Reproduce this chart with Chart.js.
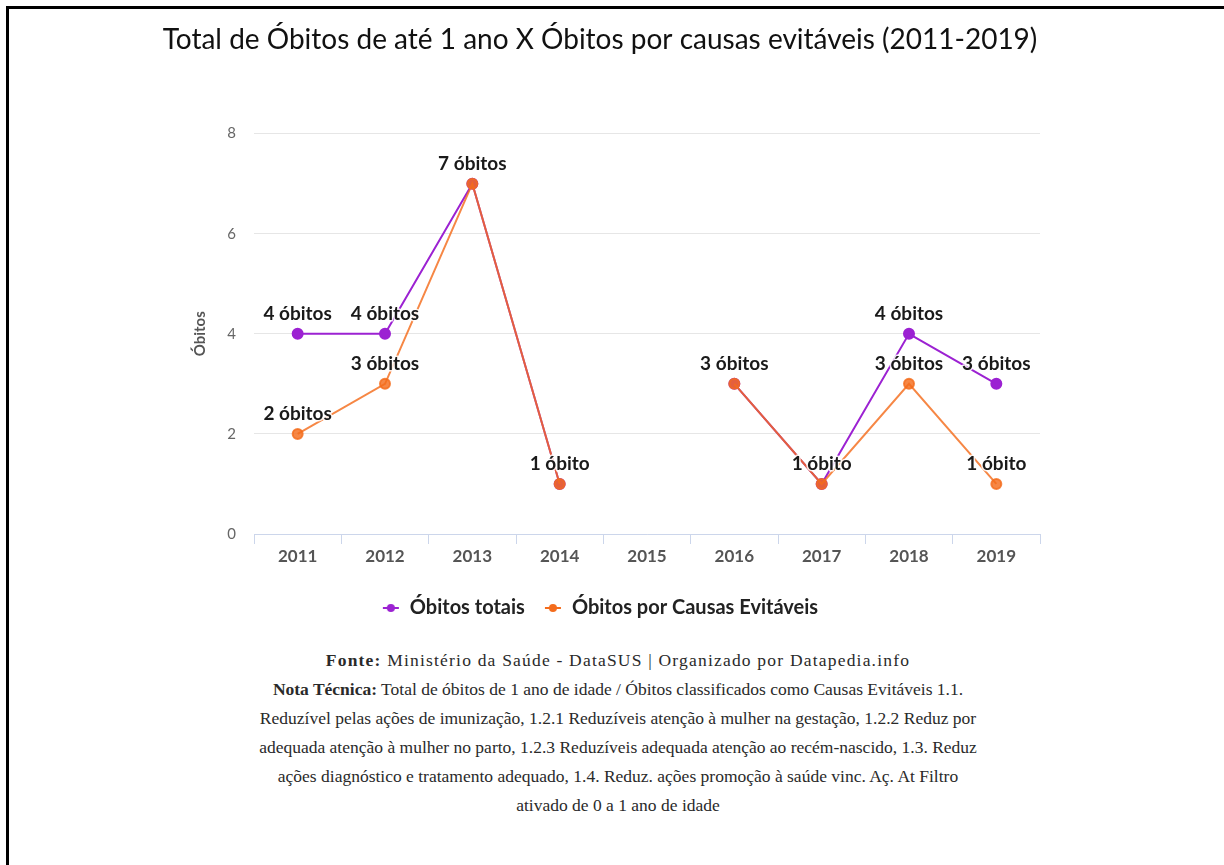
<!DOCTYPE html>
<html><head><meta charset="utf-8">
<script src="https://cdn.jsdelivr.net/npm/chart.js@4/dist/chart.umd.min.js"></script>
<style>
html,body{margin:0;padding:0;background:#fff;width:1224px;height:865px;overflow:hidden;position:relative;}
#lineTop{position:absolute;left:6px;top:6px;width:1218px;height:3px;background:#000;}
#lineLeft{position:absolute;left:6px;top:6px;width:3px;height:859px;background:#000;}
#wrap{position:absolute;left:0;top:0;width:1224px;height:635px;}
#note{position:absolute;left:8px;width:1220px;top:646px;text-align:center;font-family:'Liberation Serif','DejaVu Serif',serif;font-size:17.5px;line-height:29px;color:#2a2a2a;white-space:nowrap;}
#note b{font-weight:600;}
#note .l1{letter-spacing:1.2px;}
</style></head>
<body>
<div id="wrap"><canvas id="c" width="1224" height="635"></canvas></div>
<div id="note">
<span class="l1"><b>Fonte:</b> Ministério da Saúde - DataSUS | Organizado por Datapedia.info</span><br>
<b>Nota Técnica:</b> Total de óbitos de 1 ano de idade / Óbitos classificados como Causas Evitáveis 1.1.<br>
Reduzível pelas ações de imunização, 1.2.1 Reduzíveis atenção à mulher na gestação, 1.2.2 Reduz por<br>
adequada atenção à mulher no parto, 1.2.3 Reduzíveis adequada atenção ao recém-nascido, 1.3. Reduz<br>
ações diagnóstico e tratamento adequado, 1.4. Reduz. ações promoção à saúde vinc. Aç. At Filtro<br>
ativado de 0 a 1 ano de idade
</div>
<div id="lineTop"></div><div id="lineLeft"></div>
<script>
const categories = ['2011','2012','2013','2014','2015','2016','2017','2018','2019'];
const obitosTotais = [4, 4, 7, 1, null, 3, 1, 4, 3];
const obitosEvitaveis = [2, 3, 7, 1, null, 3, 1, 3, 1];
const yTicks = [0, 2, 4, 6, 8];
const seriesNames = ['Óbitos totais', 'Óbitos por Causas Evitáveis'];

const PURPLE = '#9c22d2';
const ORANGE = 'rgba(244,108,28,0.82)';

function legendIcon(color){
  const cv = document.createElement('canvas');
  cv.width = 18; cv.height = 12;
  const x = cv.getContext('2d');
  x.strokeStyle = color; x.lineWidth = 2;
  x.beginPath(); x.moveTo(1,6); x.lineTo(17,6); x.stroke();
  x.fillStyle = color;
  x.beginPath(); x.arc(9,6,4,0,Math.PI*2); x.fill();
  return cv;
}
const icons = [legendIcon(PURPLE), legendIcon('#f46c1c')];

const labelPlugin = {
  id: 'valueLabels',
  afterDatasetsDraw(chart){
    const ctx = chart.ctx;
    ctx.save();
    ctx.font = 'bold 19px Lato, sans-serif';
    ctx.textAlign = 'center';
    ctx.textBaseline = 'middle';
    ctx.lineJoin = 'round';
    chart.data.datasets.forEach((ds, d) => {
      const meta = chart.getDatasetMeta(d);
      ds.data.forEach((v, i) => {
        if (v === null || v === undefined) return;
        if (d === 1 && obitosTotais[i] === v) return;
        const p = meta.data[i];
        const txt = v === 1 ? '1 óbito' : v + ' óbitos';
        ctx.strokeStyle = 'rgba(255,255,255,0.85)';
        ctx.lineWidth = 3;
        ctx.strokeText(txt, p.x, p.y - 20);
        ctx.fillStyle = '#1a1a1a';
        ctx.fillText(txt, p.x, p.y - 20);
      });
    });
    ctx.restore();
  }
};

new Chart(document.getElementById('c'), {
  type: 'line',
  data: {
    labels: categories,
    datasets: [
      { label: seriesNames[0], data: obitosTotais, borderColor: PURPLE, backgroundColor: PURPLE,
        pointBackgroundColor: PURPLE, pointBorderColor: PURPLE, pointRadius: 5, borderWidth: 2,
        pointStyle: 'circle', spanGaps: false, order: 1 },
      { label: seriesNames[1], data: obitosEvitaveis, borderColor: ORANGE, backgroundColor: ORANGE,
        pointBackgroundColor: ORANGE, pointBorderColor: ORANGE, pointRadius: 5, borderWidth: 2,
        pointStyle: 'circle', spanGaps: false, order: 0 }
    ]
  },
  options: {
    responsive: false,
    animation: false,
    elements: { line: { tension: 0 } },
    layout: { padding: { left: 160, right: 184, top: 20, bottom: 7 } },
    plugins: {
      title: { display: true, text: 'Total de Óbitos de até 1 ano X Óbitos por causas evitáveis (2011-2019)',
        font: { family: 'Lato, sans-serif', size: 28, weight: 'normal' }, color: '#111',
        padding: { top: 3, bottom: 77 } },
      legend: { position: 'bottom',
        labels: { usePointStyle: true, color: '#222', font: { family: 'Lato, sans-serif', size: 20, weight: 'bold' },
          padding: 19, boxWidth: 18,
          sort: (a, b) => a.datasetIndex - b.datasetIndex,
          generateLabels: (chart) => {
            const items = Chart.defaults.plugins.legend.labels.generateLabels(chart);
            items.forEach(it => { it.pointStyle = icons[it.datasetIndex]; });
            return items;
          } } },
      tooltip: { enabled: false }
    },
    scales: {
      x: {
        offset: true,
        grid: { offset: true, drawOnChartArea: false, drawTicks: true, tickLength: 10, color: '#ccd6eb' },
        border: { color: '#ccd6eb' },
        ticks: { color: '#555', font: { family: 'Lato, sans-serif', size: 17, weight: 'bold' }, padding: 2 },
        afterFit: s => { s.height = 45; }
      },
      y: {
        min: 0, max: 8,
        afterBuildTicks: s => { s.ticks = yTicks.map(v => ({ value: v })); },
        grid: { color: '#e6e6e6', drawTicks: false },
        border: { display: false },
        ticks: { color: '#666', font: { family: 'Lato, sans-serif', size: 15 }, padding: 18 },
        title: { display: true, text: 'Óbitos', color: '#555', font: { family: 'Lato, sans-serif', size: 15, weight: 'bold' },
          padding: { top: 31, bottom: 0 } },
        afterFit: s => { s.width = 94; }
      }
    }
  },
  plugins: [labelPlugin]
});
</script>
</body></html>
